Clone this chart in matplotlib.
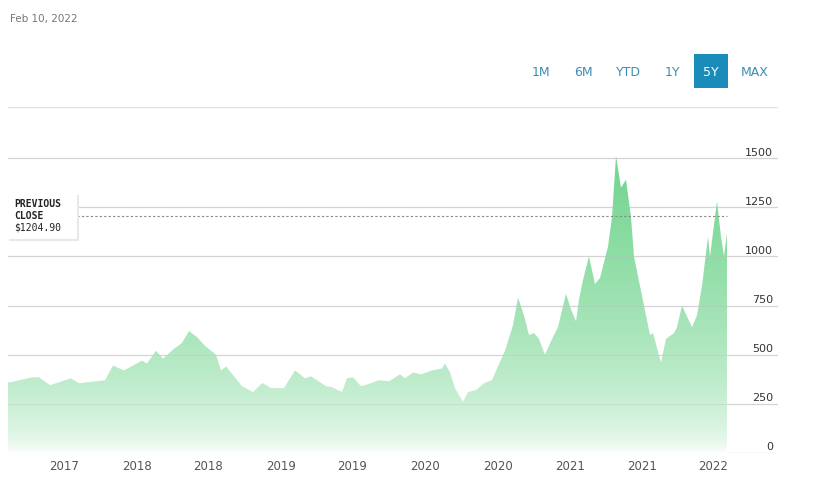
import numpy as np
import matplotlib
matplotlib.use("Agg")
import matplotlib.pyplot as plt
from matplotlib.patches import Rectangle

xs = [8, 11, 32, 39, 50, 71, 79, 105, 113, 124,
      142, 147, 156, 163, 174, 182, 189, 197, 205, 216,
      221, 226, 234, 242, 253, 261, 263, 271, 284, 295,
      305, 311, 326, 332, 342, 347, 353, 361, 368, 379,
      389, 400, 405, 413, 421, 432, 442, 445, 450, 455,
      463, 468, 476, 484, 492, 497, 505, 513, 518, 524,
      529, 534, 539, 545, 553, 558, 566, 571, 576, 579,
      583, 589, 595, 600, 608, 612, 616, 621, 626, 631,
      634, 642, 650, 653, 661, 666, 674, 677, 682, 692,
      697, 702, 708, 710, 717, 721, 724, 727]
vals = [360, 360, 385, 385, 345, 380, 355, 370, 445, 420,
        470, 455, 520, 480, 530, 560, 620, 590, 545, 500,
        420, 440, 390, 340, 310, 350, 355, 330, 330, 420,
        380, 390, 340, 335, 310, 380, 385, 340, 350, 370,
        365, 400, 380, 410, 400, 420, 430, 455, 410, 330,
        260, 310, 320, 355, 370, 430, 520, 650, 790, 700,
        600, 610, 580, 500, 590, 640, 810, 730, 670, 780,
        880, 1000, 860, 890, 1050, 1200, 1510, 1350, 1390, 1200,
        1000, 800, 600, 610, 460, 580, 610, 640, 750, 640,
        700, 850, 1100, 1000, 1280, 1100, 1000, 1120]
ticks_x = [64, 137, 208, 281, 352, 425, 498, 570, 642, 713]
tick_labels = ["2017", "2018", "2018", "2019", "2019", "2020", "2020", "2021", "2021", "2022"]
yticks = [0, 250, 500, 750, 1000, 1250, 1500]
prev_close = 1204.90
periods = ["1M", "6M", "YTD", "1Y", "5Y", "MAX"]
period_x = [541, 583, 628, 672, 711, 755]

x = np.array(xs, float)
v = np.array(vals, float)

fig = plt.figure(figsize=(8.2, 4.89), dpi=100)
ax = fig.add_axes([8/820, 35/489, 770/820, 346/489])
for s in ax.spines.values():
    s.set_visible(False)
ax.set_yticks([])
ax.set_xticks([])
for yt in yticks + [1760]:
    ax.axhline(yt, color="#e2e2e2", lw=1, zorder=1)

poly = ax.fill_between(x, 0, v, color="none", lw=0)
grad = np.linspace(0, 1, 256).reshape(-1, 1)
top = np.array([118, 214, 146]) / 255
t = np.clip(grad / 0.9, 0, 1) ** 0.55
img = (1 - t[..., None]) * np.ones(3) + t[..., None] * top
img = img[::-1]
im = ax.imshow(img, extent=[8, 778, 0, 1600], aspect="auto", zorder=2, origin="upper")
im.set_clip_path(poly.get_paths()[0], transform=ax.transData)
ax.set_ylim(0, 1760)
ax.set_xlim(8, 778)
for yt in yticks:
    ax.axhline(yt, color="#bbbbbb", lw=0.6, alpha=0.4, zorder=3)

for yt in yticks:
    ax.text(773, yt + 8, str(yt), ha="right", va="bottom", fontsize=8, color="#333333", zorder=5)
for tx, tl in zip(ticks_x, tick_labels):
    fig.text(tx / 820, 1 - 467 / 489, tl, ha="center", va="center", fontsize=8.5, color="#555555")

ax.plot([77, x[-1]], [prev_close, prev_close], ls=(0, (2, 2)), color="#888888", lw=0.8, zorder=4)

fig.patches.append(Rectangle((9 / 820, 1 - 242 / 489), 70 / 820, 46 / 489, transform=fig.transFigure,
                             facecolor="#e8e8e8", edgecolor="none", zorder=5))
fig.patches.append(Rectangle((8 / 820, 1 - 240 / 489), 69 / 820, 45 / 489, transform=fig.transFigure,
                             facecolor="white", edgecolor="none", zorder=6))
for i, line in enumerate(["PREVIOUS", "CLOSE", "$1204.90"]):
    fig.text(14 / 820, 1 - (204 + i * 12) / 489, line, fontsize=7, color="#222222", va="center", zorder=7,
             family="DejaVu Sans Mono", fontweight="bold" if i < 2 else "normal")

fig.text(10 / 820, 1 - 19 / 489, "Feb 10, 2022", fontsize=7.5, color="#777777", va="center")

fig.patches.append(Rectangle((694 / 820, 1 - 89 / 489), 34 / 820, 34 / 489, transform=fig.transFigure,
                             facecolor="#1a8cba", edgecolor="none"))
for p, px in zip(periods, period_x):
    fig.text(px / 820, 1 - 72 / 489, p, ha="center", va="center", fontsize=9,
             color="white" if p == "5Y" else "#3a8fb7")

fig.savefig("out.png", dpi=100)
